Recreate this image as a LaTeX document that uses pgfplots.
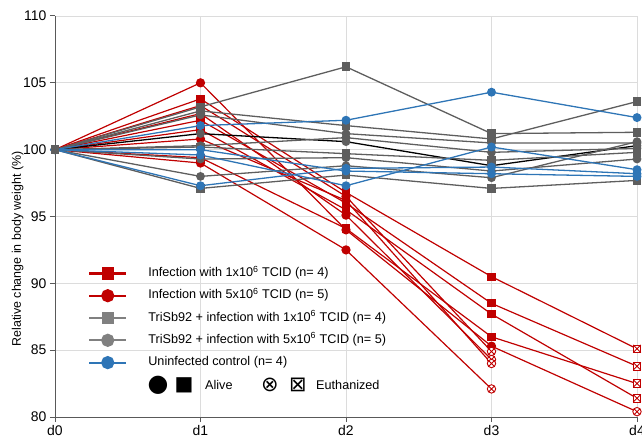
\documentclass[border=0pt]{standalone}
\usepackage{pgfplots}
\pgfplotsset{compat=1.18}
\usepackage{fontspec}
\setmainfont{Liberation Sans}
\newfontfamily\dejavu{DejaVu Sans}
\usetikzlibrary{calc}

\definecolor{myred}{HTML}{C00000}
\definecolor{mygray}{HTML}{5E5E5E}
\definecolor{leggray}{HTML}{808080}
\definecolor{myblue}{HTML}{2E75B6}
\definecolor{gridc}{HTML}{DCDCDC}
\definecolor{axc}{HTML}{595959}

% square with a cross, for euthanized animals
\pgfdeclareplotmark{boxx}{%
  \pgfpathrectangle{\pgfqpoint{-\pgfplotmarksize}{-\pgfplotmarksize}}{\pgfqpoint{2\pgfplotmarksize}{2\pgfplotmarksize}}%
  \pgfusepathqfillstroke
  \pgfpathmoveto{\pgfqpoint{-\pgfplotmarksize}{-\pgfplotmarksize}}%
  \pgfpathlineto{\pgfqpoint{\pgfplotmarksize}{\pgfplotmarksize}}%
  \pgfpathmoveto{\pgfqpoint{-\pgfplotmarksize}{\pgfplotmarksize}}%
  \pgfpathlineto{\pgfqpoint{\pgfplotmarksize}{-\pgfplotmarksize}}%
  \pgfusepathqstroke}

\pgfplotsset{
  rsq/.style={myred, line width=1.2pt, mark=square*, mark size=3.5bp, forget plot},
  rci/.style={myred, line width=1.2pt, mark=*, mark size=4bp, forget plot},
  gsq/.style={mygray, line width=1.3pt, mark=square*, mark size=3.7bp, forget plot},
  gci/.style={mygray, line width=1.3pt, mark=*, mark size=3.7bp, forget plot},
  bci/.style={myblue, line width=1.3pt, mark=*, mark size=3.8bp, forget plot},
  euth/.style={only marks, myred, fill=white, line width=0.9pt, forget plot},
}

\begin{document}
\begin{tikzpicture}
\begin{axis}[
  name=ax, scale only axis, width=582bp, height=401bp,
  xmin=0, xmax=4, ymin=80, ymax=110,
  axis lines*=left, axis line style={axc, line width=1pt},
  xtick={0,1,2,3,4}, xticklabels={d0,d1,d2,d3,d4},
  ytick={80,85,...,110},
  grid=major, major grid style={gridc, line width=0.9pt},
  tick align=outside, major tick length=5bp, tick style={axc, line width=1pt},
  ticklabel style={font=\fontsize{14}{16}\selectfont, black},
  /pgf/number format/assume math mode=true,
  ylabel={Relative change in body weight (\%)},
  ylabel style={font=\fontsize{12.5}{15}\selectfont, at={(ticklabel cs:0.414)}, anchor=near ticklabel, xshift=2bp, yshift=-7bp},
  clip=false,
  legend style={at={(rel axis cs:0.0515,0.3785)}, anchor=north west, draw=none, fill=none,
    font=\fontsize{12.7}{15}\selectfont, row sep=10.3bp,
    nodes={inner sep=0pt, text height=9bp, text depth=3bp},
    /tikz/every odd column/.append style={column sep=21bp}},
  legend cell align=left,
  legend image code/.code={%
    \draw[line width=2.2pt, mark=none] (0bp,0bp) -- (37bp,0bp);
    \draw[line width=2.2pt, mark repeat=2, mark phase=2] plot coordinates {(0bp,0bp) (18.5bp,0bp) (37bp,0bp)};},
]
\addlegendimage{myred, mark=square*, mark size=5bp}
\addlegendentry{Infection with 1x10\textsuperscript{6} TCID (n= 4)}
\addlegendimage{myred, mark=*, mark size=5.5bp}
\addlegendentry{Infection with 5x10\textsuperscript{6} TCID (n= 5)}
\addlegendimage{leggray, mark=square*, mark size=5bp}
\addlegendentry{TriSb92 + infection with 1x10\textsuperscript{6} TCID (n= 4)}
\addlegendimage{leggray, mark=*, mark size=5.5bp}
\addlegendentry{TriSb92 + infection with 5x10\textsuperscript{6} TCID (n= 5)}
\addlegendimage{myblue, mark=*, mark size=5.5bp}
\addlegendentry{Uninfected control (n= 4)}

% infection 1x10^6 (squares): alive to d3, euthanized d4
\addplot[rsq, mark indices={2,3,4}] coordinates {(0,100) (1,103.8) (2,96.8) (3,90.5) (4,85.1)};
\addplot[rsq, mark indices={2,3,4}] coordinates {(0,100) (1,102.2) (2,96.0) (3,88.5) (4,83.8)};
\addplot[rsq, mark indices={2,3,4}] coordinates {(0,100) (1,101.5) (2,95.5) (3,87.7) (4,81.4)};
\addplot[rsq, mark indices={2,3,4}] coordinates {(0,100) (1,99.4) (2,94.1) (3,86.0) (4,82.5)};
% infection 5x10^6 (circles)
\addplot[rci, mark indices={2,3,4}] coordinates {(0,100) (1,105.0) (2,94.0) (3,85.3) (4,80.4)};
\addplot[rci, mark indices={2,3}] coordinates {(0,100) (1,103.3) (2,96.5) (3,84.9)};
\addplot[rci, mark indices={2,3}] coordinates {(0,100) (1,102.7) (2,95.1) (3,84.3)};
\addplot[rci, mark indices={2,3}] coordinates {(0,100) (1,100.8) (2,96.2) (3,84.0)};
\addplot[rci, mark indices={2,3}] coordinates {(0,100) (1,99.0) (2,92.5) (3,82.1)};
% euthanized
\addplot[euth, mark=boxx, mark size=3.8bp] coordinates {(4,85.1) (4,83.8) (4,82.5) (4,81.4)};
\addplot[euth, mark=otimes*, mark size=4.2bp] coordinates {(4,80.4) (3,84.9) (3,84.3) (3,84.0) (3,82.1)};

% TriSb92 + infection
\addplot[gsq] coordinates {(0,100) (1,103.2) (2,106.2) (3,101.2) (4,101.3)};
\addplot[gsq] coordinates {(0,100) (1,102.9) (2,101.8) (3,100.8) (4,103.6)};
\addplot[gci] coordinates {(0,100) (1,102.6) (2,101.2) (3,100.5) (4,100.5)};
\addplot[gci, draw=black, mark options={draw=mygray, fill=mygray}] coordinates {(0,100) (1,101.2) (2,100.6) (3,98.8) (4,100.3)};
\addplot[gci] coordinates {(0,100) (1,100.3) (2,100.9) (3,99.8) (4,100.1)};
\addplot[gsq] coordinates {(0,100) (1,100.2) (2,99.7) (3,99.2) (4,99.8)};
\addplot[gci] coordinates {(0,100) (1,99.3) (2,99.4) (3,98.4) (4,99.3)};
\addplot[gci] coordinates {(0,100) (1,98.0) (2,98.8) (3,97.9) (4,100.6)};
\addplot[gsq] coordinates {(0,100) (1,97.1) (2,98.1) (3,97.1) (4,97.7)};

% uninfected control
\addplot[bci] coordinates {(0,100) (1,101.8) (2,102.2) (3,104.3) (4,102.4)};
\addplot[bci] coordinates {(0,100) (1,99.6) (2,97.3) (3,100.2) (4,98.5)};
\addplot[bci] coordinates {(0,100) (1,97.3) (2,98.6) (3,98.7) (4,98.2)};
\addplot[bci] coordinates {(0,100) (1,100.0) (2,98.4) (3,98.2) (4,98.0)};

% day 0 marker
\addplot[gsq, only marks] coordinates {(0,100)};

% marker key
\node[font=\dejavu\fontsize{24}{24}\selectfont, inner sep=0pt] at (rel axis cs:0.177,0.080) {●};
\node[font=\dejavu\fontsize{20}{20}\selectfont, inner sep=0pt] at (rel axis cs:0.2216,0.080) {■};
\node[font=\fontsize{12.7}{15}\selectfont, anchor=west, inner sep=0pt] at (rel axis cs:0.2577,0.080) {Alive};
\node[font=\dejavu\fontsize{21}{21}\selectfont, inner sep=0pt] at (rel axis cs:0.3694,0.080) {⊗};
\node[font=\dejavu\fontsize{21}{21}\selectfont, inner sep=0pt] at (rel axis cs:0.4175,0.080) {⊠};
\node[font=\fontsize{12.7}{15}\selectfont, anchor=west, inner sep=0pt] at (rel axis cs:0.4485,0.080) {Euthanized};
\end{axis}
\pgfresetboundingbox
\path[use as bounding box] ($(ax.south west)+(-55bp,-27bp)$) rectangle ($(ax.north east)+(5bp,16bp)$);
\end{tikzpicture}
\end{document}
